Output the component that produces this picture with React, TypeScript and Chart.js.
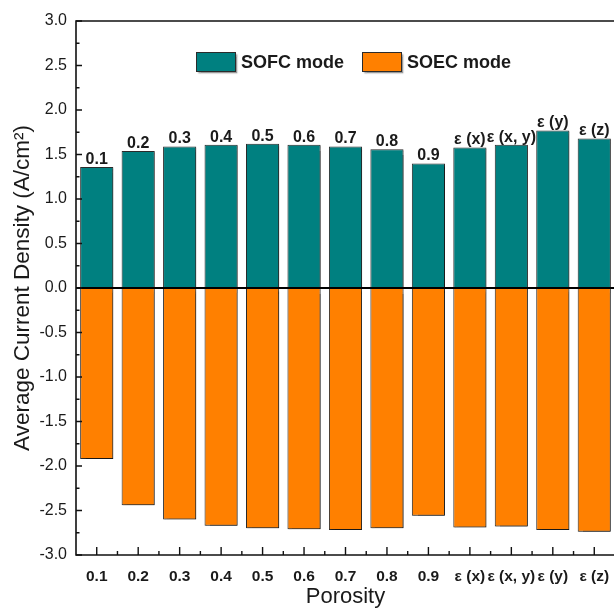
import { useEffect, useRef } from "react";
import { Chart, registerables } from "chart.js";

Chart.register(...registerables);

// Porosity cases along the x axis
const categories = [
  "0.1", "0.2", "0.3", "0.4", "0.5", "0.6", "0.7", "0.8", "0.9",
  "ε (x)", "ε (x, y)", "ε (y)", "ε (z)",
];

// Average current density (A/cm²)
const sofcValues = [1.36, 1.54, 1.59, 1.61, 1.62, 1.61, 1.59, 1.56, 1.40, 1.58, 1.61, 1.77, 1.68];
const soecValues = [-1.92, -2.44, -2.60, -2.67, -2.70, -2.71, -2.72, -2.70, -2.56, -2.69, -2.68, -2.72, -2.74];

const seriesNames = ["SOFC mode", "SOEC mode"];
const seriesColors = ["#008080", "#ff8000"];

const FONT = "'Liberation Sans', Arial, sans-serif";
const INK = "#1a1a1a";

const decorations = {
  id: "decorations",
  beforeDatasetsDraw(chart: any) {
    const ctx = chart.ctx;
    ctx.save();
    ctx.shadowColor = "rgba(0,0,0,0.45)";
    ctx.shadowBlur = 1.5;
    ctx.shadowOffsetX = 1.5;
    ctx.shadowOffsetY = 1.5;
  },
  afterDatasetsDraw(chart: any) {
    const ctx = chart.ctx;
    ctx.restore();
    const { left, right, top, bottom } = chart.chartArea;
    const yScale = chart.scales.y;
    const xScale = chart.scales.x;

    // zero line
    ctx.save();
    ctx.strokeStyle = "#000";
    ctx.lineWidth = 2;
    const y0 = yScale.getPixelForValue(0);
    ctx.beginPath();
    ctx.moveTo(left, y0);
    ctx.lineTo(right, y0);
    ctx.stroke();

    // frame
    ctx.lineWidth = 1.6;
    ctx.strokeStyle = "#111";
    ctx.beginPath();
    ctx.moveTo(right, top);
    ctx.lineTo(left, top);
    ctx.lineTo(left, bottom);
    ctx.lineTo(right, bottom);
    ctx.lineTo(right, top);
    ctx.stroke();

    // inward y ticks (major every 0.5, minor every 0.25)
    ctx.lineWidth = 1.4;
    ctx.beginPath();
    for (let i = -12; i <= 12; i++) {
      const v = i * 0.25;
      const py = yScale.getPixelForValue(v);
      const len = i % 2 === 0 ? 6 : 3.5;
      ctx.moveTo(left, py);
      ctx.lineTo(left + len, py);
    }
    // inward x ticks (major at categories, minor at boundaries)
    const n = categories.length;
    const step = (right - left) / n;
    for (let i = 0; i < n; i++) {
      const px = xScale.getPixelForValue(i);
      ctx.moveTo(px, bottom);
      ctx.lineTo(px, bottom - 8);
      const bx = left + step * (i + 1);
      if (i < n - 1) {
        ctx.moveTo(bx, bottom);
        ctx.lineTo(bx, bottom - 4);
      }
    }
    ctx.stroke();

    // category labels above the SOFC bars
    const meta = chart.getDatasetMeta(0);
    ctx.fillStyle = INK;
    ctx.font = `bold 16px ${FONT}`;
    ctx.textAlign = "center";
    ctx.textBaseline = "alphabetic";
    meta.data.forEach((bar: any, i: number) => {
      ctx.fillText(categories[i], bar.x, bar.y - 3);
    });

    // legend
    const boxW = 40;
    const boxH = 20;
    const lx = [left + 120, left + 286];
    const ly = top + 31;
    ctx.font = `bold 18px ${FONT}`;
    ctx.textAlign = "left";
    ctx.textBaseline = "middle";
    seriesNames.forEach((name, i) => {
      ctx.save();
      ctx.shadowColor = "rgba(0,0,0,0.4)";
      ctx.shadowBlur = 1.5;
      ctx.shadowOffsetX = 1.5;
      ctx.shadowOffsetY = 1.5;
      ctx.fillStyle = seriesColors[i];
      ctx.fillRect(lx[i], ly, boxW, boxH);
      ctx.restore();
      ctx.strokeStyle = "#2b2b2b";
      ctx.lineWidth = 1;
      ctx.strokeRect(lx[i] + 0.5, ly + 0.5, boxW - 1, boxH - 1);
      ctx.fillStyle = INK;
      ctx.fillText(name, lx[i] + boxW + 5, ly + boxH / 2 + 1);
    });
    ctx.restore();
  },
};

export default function App() {
  const canvasRef = useRef<HTMLCanvasElement | null>(null);

  useEffect(() => {
    const canvas = canvasRef.current;
    if (!canvas) return;
    const chart = new Chart(canvas, {
      type: "bar",
      data: {
        labels: categories,
        datasets: [
          {
            label: seriesNames[0],
            data: sofcValues,
            backgroundColor: seriesColors[0],
            borderColor: "#2b2b2b",
            borderWidth: 1,
            borderSkipped: false,
            barPercentage: 0.8,
            categoryPercentage: 1.0,
          },
          {
            label: seriesNames[1],
            data: soecValues,
            backgroundColor: seriesColors[1],
            borderColor: "#2b2b2b",
            borderWidth: 1,
            borderSkipped: false,
            barPercentage: 0.8,
            categoryPercentage: 1.0,
          },
        ],
      },
      options: {
        animation: false,
        responsive: true,
        maintainAspectRatio: false,
        layout: { padding: { top: 21, right: 7, left: 0, bottom: 0 } },
        plugins: {
          legend: { display: false },
          tooltip: { enabled: false },
        },
        scales: {
          x: {
            stacked: true,
            offset: true,
            grid: { display: false, drawTicks: false },
            border: { display: false },
            ticks: {
              color: INK,
              padding: 12,
              maxRotation: 0,
              autoSkip: false,
              font: { family: FONT, size: 15.5, weight: "bold" },
            },
            title: {
              display: true,
              text: "Porosity",
              color: INK,
              padding: { top: 0, bottom: -2 },
              font: { family: FONT, size: 22 },
            },
            afterFit(scale: any) {
              scale.height = 53;
            },
          },
          y: {
            stacked: true,
            min: -3,
            max: 3,
            grid: { display: false, drawTicks: false },
            border: { display: false },
            ticks: {
              stepSize: 0.5,
              color: INK,
              padding: 9,
              font: { family: FONT, size: 16 },
              callback: (v: any) => Number(v).toFixed(1),
            },
            title: {
              display: true,
              text: "Average Current Density (A/cm²)",
              color: INK,
              padding: { top: 9, bottom: 0 },
              font: { family: FONT, size: 22.5 },
            },
            afterFit(scale: any) {
              scale.width = 76;
            },
          },
        },
      },
      plugins: [decorations],
    });
    return () => chart.destroy();
  }, []);

  return (
    <div
      style={{
        position: "fixed",
        left: 0,
        top: 0,
        width: 614,
        height: 608,
        overflow: "hidden",
        background: "#fff",
      }}
    >
      <div style={{ position: "relative", width: 622, height: 608 }}>
        <canvas ref={canvasRef} />
      </div>
    </div>
  );
}
